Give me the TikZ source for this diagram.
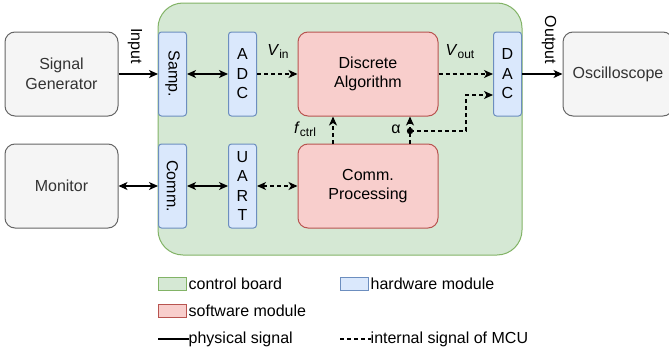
\documentclass[tikz,border=0pt]{standalone}
\usepackage{fontspec}
\usepackage{graphicx}
\setmainfont{Liberation Sans}
\usetikzlibrary{arrows.meta}
\definecolor{gfill}{HTML}{D5E8D4}
\definecolor{gdraw}{HTML}{82B366}
\definecolor{bfill}{HTML}{DAE8FC}
\definecolor{bdraw}{HTML}{6C8EBF}
\definecolor{rfill}{HTML}{F8CECC}
\definecolor{rdraw}{HTML}{B85450}
\definecolor{kfill}{HTML}{F5F5F5}
\definecolor{kdraw}{HTML}{666666}
\definecolor{ktext}{HTML}{333333}
\begin{document}
\begin{tikzpicture}[x=1pt,y=-1pt,
  font=\fontsize{16}{19.5}\selectfont,
  base/.style={line width=1pt, inner sep=0pt, align=center},
  board/.style={base, draw=gdraw, fill=gfill, rounded corners=25pt},
  greybox/.style={base, draw=kdraw, fill=kfill, text=ktext, rounded corners=10pt},
  hwbox/.style={base, draw=bdraw, fill=bfill, rounded corners=3pt, minimum width=28pt, minimum height=84pt},
  swbox/.style={base, draw=rdraw, fill=rfill, rounded corners=10pt, minimum width=140pt, minimum height=84pt},
  swatch/.style={base, minimum width=28pt, minimum height=13pt},
  lbl/.style={inner sep=0pt, anchor=west},
  sig/.style={line width=1.2pt, -{Stealth[length=9pt,width=8pt,inset=2.5pt]}},
  bisig/.style={line width=1.2pt, {Stealth[length=9pt,width=8pt,inset=2.5pt]}-{Stealth[length=9pt,width=8pt,inset=2.5pt]}},
  dashy/.style={dash pattern=on 4pt off 3pt}
]
\useasboundingbox (0,0) rectangle (669,356);

% board
\node[board, minimum width=364pt, minimum height=252pt] (board) at (340,129) {};

% external boxes
\node[greybox, minimum width=113pt, minimum height=84pt] (sg) at (61.5,74) {Signal\\Generator};
\node[greybox, minimum width=113pt, minimum height=84pt] (mon) at (61.5,186) {Monitor};
\node[greybox, minimum width=110pt, minimum height=84pt] (osc) at (618,74) {Oscilloscope};

% hardware modules
\node[hwbox] (samp) at (172.5,74) {\rotatebox{-90}{Samp.}};
\node[hwbox] (comm) at (172.5,186) {\rotatebox{-90}{Comm.}};
\node[hwbox] (adc) at (242.5,74) {A\\D\\C};
\node[hwbox] (uart) at (242.5,186) {U\\A\\R\\T};
\node[hwbox] (dac) at (507.5,74) {D\\A\\C};

% software modules
\node[swbox] (alg) at (368,74) {Discrete\\Algorithm};
\node[swbox] (cp) at (368,186) {Comm.\\Processing};

% physical connections
\draw[sig] (sg) -- (samp);
\draw[bisig] (samp) -- (adc);
\draw[sig] (dac) -- (osc);
\draw[bisig] (mon) -- (comm);
\draw[bisig] (comm) -- (uart);

% internal signals
\draw[sig, dashy] (adc) -- (alg);
\draw[sig, dashy] (alg) -- (dac);
\draw[bisig, dashy] (uart) -- (cp);

\coordinate (fx) at (333,130);
\draw[sig, dashy] (cp.north -| fx) -- (alg.south -| fx);

\coordinate (dot) at (410,131);
\coordinate (bend) at (466,95);
\coordinate (dacin) at (493,95);
\draw[line width=1.2pt, dashy] (cp.north -| dot) -- (dot);
\draw[sig, dashy] (dot) -- (alg.south -| dot);
\draw[sig, dashy] (dot) -| (bend) -- (dacin);
\fill (dot) circle (3.2pt);

% labels
\node[inner sep=0pt] (lin) at (135,46) {\rotatebox{-90}{Input}};
\node[inner sep=0pt] (lout) at (549,40) {\rotatebox{-90}{Output}};
\node[inner sep=0pt] (lvin) at (278,51) {\textit{V}\raisebox{-3pt}{\fontsize{12}{14}\selectfont in}};
\node[inner sep=0pt] (lvout) at (460,52) {\textit{V}\raisebox{-3pt}{\fontsize{12}{14}\selectfont out}};
\node[inner sep=0pt] (lf) at (305,129) {\textit{f}\raisebox{-3pt}{\fontsize{12}{14}\selectfont ctrl}};
\node[inner sep=0pt] (la) at (396,129) {α};

% legend
\node[swatch, draw=gdraw, fill=gfill] (lg) at (172,283.5) {};
\node[lbl] (lgt) at (188.5,283.5) {control board};
\node[swatch, draw=bdraw, fill=bfill] (lb) at (354,283.5) {};
\node[lbl] (lbt) at (370.5,283.5) {hardware module};
\node[swatch, draw=rdraw, fill=rfill] (lr) at (172,311) {};
\node[lbl] (lrt) at (188.5,311) {software module};
\coordinate (ps) at (158,339);
\node[lbl] (lpt) at (188.5,339) {physical signal};
\draw[line width=1.2pt] (ps) -- (lpt.west);
\coordinate (is) at (340,339);
\node[lbl] (lit) at (370.5,339) {internal signal of MCU};
\draw[line width=1.2pt, dashy] (is) -- (lit.west);
\end{tikzpicture}
\end{document}
